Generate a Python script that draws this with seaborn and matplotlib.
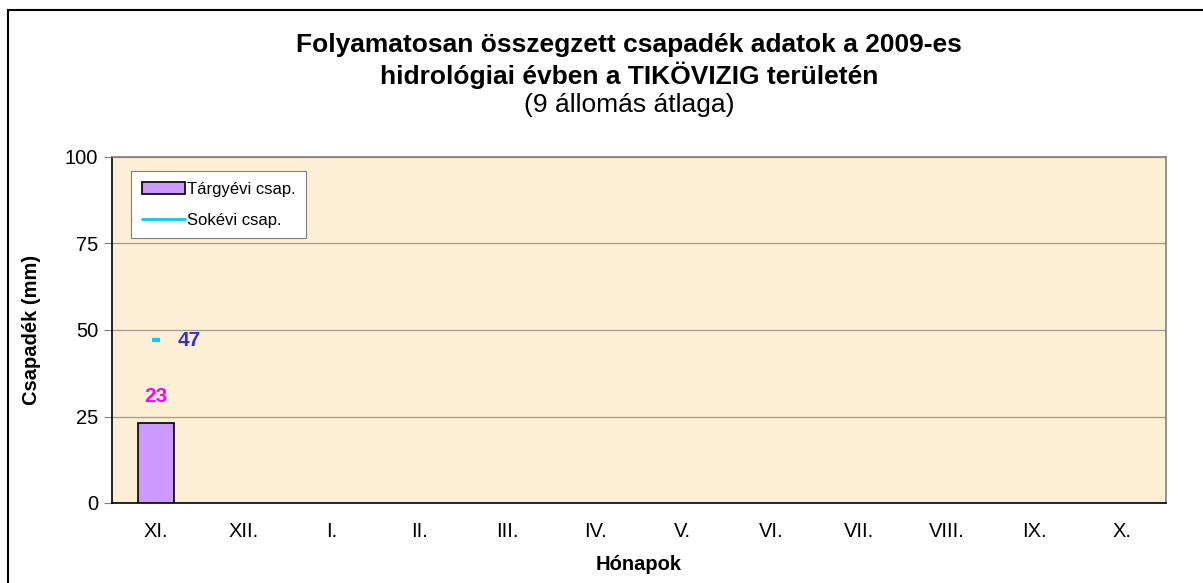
import numpy as np
import pandas as pd
import seaborn as sns
import matplotlib.pyplot as plt
from matplotlib.patches import Rectangle
from matplotlib.lines import Line2D
from matplotlib.patches import Patch

# Data
honapok = ["XI.", "XII.", "I.", "II.", "III.", "IV.", "V.", "VI.", "VII.", "VIII.", "IX.", "X."]
targyevi = [23, np.nan, np.nan, np.nan, np.nan, np.nan, np.nan, np.nan, np.nan, np.nan, np.nan, np.nan]
sokevi = [47, np.nan, np.nan, np.nan, np.nan, np.nan, np.nan, np.nan, np.nan, np.nan, np.nan, np.nan]

df = pd.DataFrame({"honap": honapok, "targyevi": targyevi, "sokevi": sokevi})

sns.set_theme(style="white")
plt.rcParams['font.family'] = ['Liberation Sans', 'DejaVu Sans']
plt.rcParams['text.color'] = 'black'
plt.rcParams['axes.labelcolor'] = 'black'
plt.rcParams['xtick.color'] = 'black'
plt.rcParams['ytick.color'] = 'black'

fig = plt.figure(figsize=(12.03, 5.83), dpi=100)
ax = fig.add_axes([112 / 1203, 80 / 583, 1054 / 1203, 346 / 583])
ax.set_facecolor("#fcefd6")

# bars for this year
sns.barplot(data=df, x="honap", y="targyevi", order=honapok, color="#cc99ff",
            saturation=1, width=0.41, edgecolor="black", linewidth=1.2, ax=ax, zorder=3)

# long-term values as short dashes
xs = np.arange(len(honapok))
ax.plot(xs, df["sokevi"], linestyle="none", marker="_", markersize=6, markeredgewidth=3,
        color="#00ccff", zorder=4)

# value labels
for i, v in enumerate(targyevi):
    if not np.isnan(v):
        ax.annotate(f"{v:.0f}", (i, v), xytext=(0, 19.5), textcoords="offset points",
                    ha="center", va="center", color="#ff00ff", fontsize=15, fontweight="bold")
for i, v in enumerate(sokevi):
    if not np.isnan(v):
        ax.annotate(f"{v:.0f}", (i, v), xytext=(24, 0), textcoords="offset points",
                    ha="center", va="center", color="#3333cc", fontsize=15, fontweight="bold")

ax.set_xlim(-0.5, len(honapok) - 0.5)
ax.set_ylim(0, 100)
ax.set_yticks([0, 25, 50, 75, 100])
ax.yaxis.grid(True, color="#a09a90", linewidth=0.9)
ax.set_axisbelow(True)

# ticks between categories
ax.set_xticks(np.arange(-0.5, len(honapok), 1), minor=True)
ax.tick_params(axis="x", which="major", length=0, labelsize=14.5, pad=14, labelcolor="black")
ax.tick_params(axis="x", which="minor", length=6, width=0.8, color="#808080", direction="out")
ax.tick_params(axis="y", which="major", length=6, width=0.8, color="#808080", labelsize=14.5,
               labelcolor="black", direction="out", left=True, pad=4)

for s in ["left", "bottom"]:
    ax.spines[s].set_color("black")
    ax.spines[s].set_linewidth(1.2)
for s in ["top", "right"]:
    ax.spines[s].set_visible(True)
    ax.spines[s].set_color("#808080")
    ax.spines[s].set_linewidth(1.2)

ax.set_xlabel("Hónapok", fontsize=14.5, fontweight="bold", labelpad=10)
ax.set_ylabel("Csapadék (mm)", fontsize=14.5, fontweight="bold", labelpad=17)

handles = [Patch(facecolor="#cc99ff", edgecolor="black", linewidth=1.2),
           Line2D([0], [0], color="#00ccff", linewidth=2)]
leg = ax.legend(handles, ["Tárgyévi csap.", "Sokévi csap."], loc="upper left",
                bbox_to_anchor=(0.018, 0.96), borderaxespad=0, fontsize=12, frameon=True,
                fancybox=False, framealpha=1, edgecolor="#808080", handlelength=2.6,
                handletextpad=0.1, labelspacing=0.95, borderpad=0.65)
leg.get_frame().set_linewidth(0.8)

# title
fig.text(629 / 1203, 1 - 45 / 583, "Folyamatosan összegzett csapadék adatok a 2009-es",
         ha="center", va="center", fontsize=19, fontweight="bold")
fig.text(629 / 1203, 1 - 75 / 583, "hidrológiai évben a TIKÖVIZIG területén",
         ha="center", va="center", fontsize=19, fontweight="bold")
fig.text(629 / 1203, 1 - 105 / 583, "(9 állomás átlaga)",
         ha="center", va="center", fontsize=19)

# outer frame
fig.patches.append(Rectangle((8 / 1203, -0.05), 1.1, 1 - 10 / 583 + 0.05, transform=fig.transFigure,
                             fill=False, edgecolor="black", linewidth=1.5))

fig.savefig("out.png", dpi=100)
